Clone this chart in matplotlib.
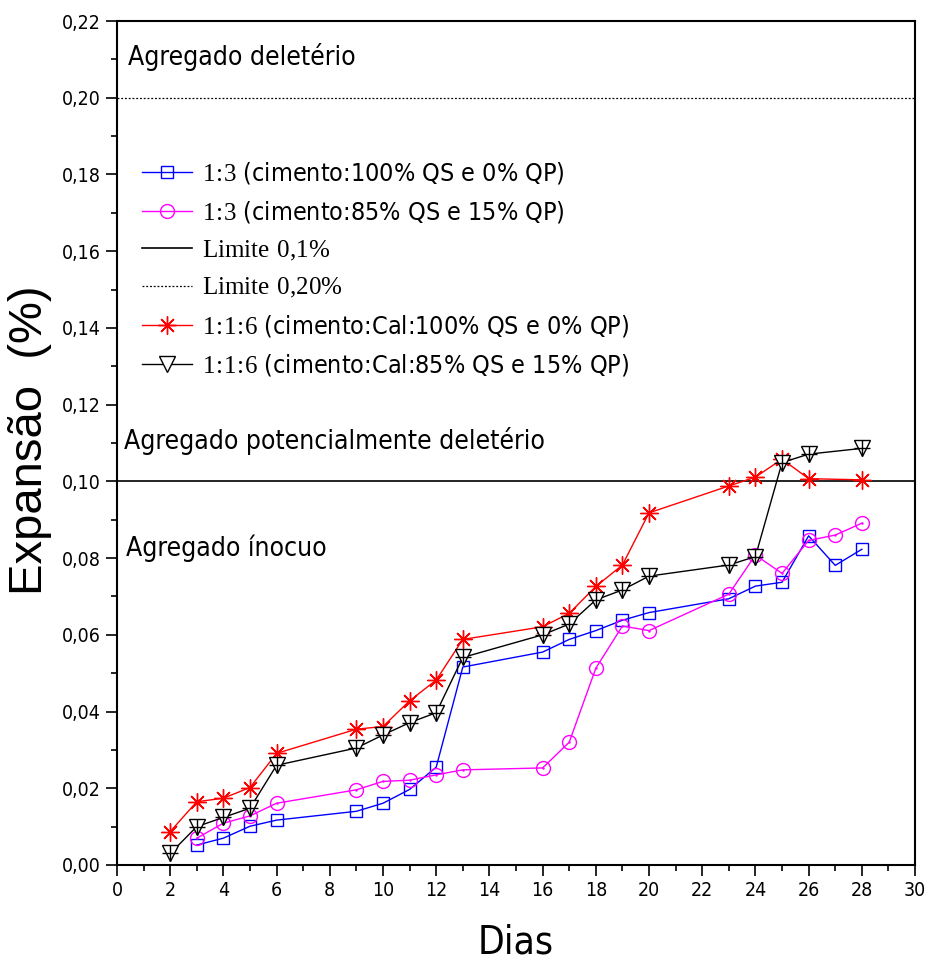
import matplotlib
matplotlib.use('Agg')
from matplotlib import pyplot as plt
from matplotlib import font_manager
from matplotlib.ticker import MultipleLocator, FuncFormatter

available = {f.name for f in font_manager.fontManager.ttflist}
serif = 'Liberation Serif' if 'Liberation Serif' in available else 'DejaVu Serif'
arial = 'Liberation Sans' if 'Liberation Sans' in available else 'DejaVu Sans'

plt.rcParams['mathtext.fontset'] = 'custom'
plt.rcParams['mathtext.rm'] = serif

# dias de ensaio e expansões medidas
dias_13_a = [3, 4, 5, 6, 9, 10, 11, 12, 13, 16, 17, 18, 19, 20, 23, 24, 25, 26, 27, 28]
exp_13_a = [0.0052, 0.0070, 0.0101, 0.0117, 0.0140, 0.0161, 0.0197, 0.0255, 0.0516, 0.0555,
            0.0588, 0.0611, 0.0638, 0.0658, 0.0694, 0.0727, 0.0737, 0.0858, 0.0781, 0.0823]

dias_13_b = [3, 4, 5, 6, 9, 10, 11, 12, 13, 16, 17, 18, 19, 20, 23, 24, 25, 26, 27, 28]
exp_13_b = [0.0070, 0.0109, 0.0128, 0.0161, 0.0196, 0.0218, 0.0221, 0.0235, 0.0248, 0.0253,
            0.0320, 0.0513, 0.0623, 0.0611, 0.0706, 0.0808, 0.0760, 0.0846, 0.0860, 0.0891]

dias_116_a = [2, 3, 4, 5, 6, 9, 10, 11, 12, 13, 16, 17, 18, 19, 20, 23, 24, 25, 26, 28]
exp_116_a = [0.0087, 0.0165, 0.0174, 0.0202, 0.0291, 0.0354, 0.0361, 0.0428, 0.0482, 0.0588,
             0.0621, 0.0656, 0.0726, 0.0782, 0.0918, 0.0988, 0.1011, 0.1058, 0.1007, 0.1004]

dias_116_b = [2, 3, 4, 5, 6, 9, 10, 11, 12, 13, 16, 17, 18, 19, 20, 23, 24, 25, 26, 28]
exp_116_b = [0.0030, 0.0100, 0.0124, 0.0148, 0.0260, 0.0305, 0.0339, 0.0371, 0.0397, 0.0541,
             0.0600, 0.0628, 0.0691, 0.0717, 0.0753, 0.0782, 0.0804, 0.1049, 0.1071, 0.1086]

sans = 'DejaVu Sans'
# mathtext spaces out ':' as a relation, so pull the digits back a little
c = r'\!:\!'

fig = plt.figure(figsize=(9.27, 9.64), dpi=100)
ax = fig.add_axes([0.1262, 0.1027, 0.8609, 0.8755])

ms = 9
ax.plot(dias_13_a, exp_13_a, color='#0000ff', lw=1, marker='s', ms=ms, mfc='none',
        mec='#0000ff', mew=1, label=rf'$\mathrm{{1{c}3}}$ (cimento:100% QS e 0% QP)')
ax.plot(dias_13_b, exp_13_b, color='#ff00ff', lw=1, marker='o', ms=ms + 1, mfc='none',
        mec='#ff00ff', mew=1, label=rf'$\mathrm{{1{c}3}}$ (cimento:85% QS e 15% QP)')
ax.plot(dias_13_b, exp_13_b, ls='none', marker='.', ms=1.5, color='#ff00ff')
ax.axhline(0.10, color='black', lw=1.2, label=r'$\mathrm{Limite\ 0{,}1\%}$')
ax.axhline(0.20, color='black', lw=0.9, ls=(0, (1.5, 1.5)), label=r'$\mathrm{Limite\ 0{,}20\%}$')
ax.plot(dias_116_a, exp_116_a, color='#ff0000', lw=1, marker=(8, 2, 0), ms=ms + 4,
        mec='#ff0000', mew=1, label=rf'$\mathrm{{1{c}1{c}6}}$ (cimento:Cal:100% QS e 0% QP)')
ax.plot(dias_116_b, exp_116_b, color='black', lw=1, marker='v', ms=ms + 2, mfc='white',
        mec='black', mew=1, label=rf'$\mathrm{{1{c}1{c}6}}$ (cimento:Cal:85% QS e 15% QP)')
ax.plot(dias_116_b, exp_116_b, ls='none', marker='+', ms=ms + 3, mec='black', mew=1)

ax.set_xlim(0, 30)
ax.set_ylim(0, 0.22)
ax.xaxis.set_major_locator(MultipleLocator(2))
ax.xaxis.set_minor_locator(MultipleLocator(1))
ax.yaxis.set_major_locator(MultipleLocator(0.02))
ax.yaxis.set_minor_locator(MultipleLocator(0.01))
ax.xaxis.set_major_formatter(FuncFormatter(lambda v, p: f'{v:.0f}'))
ax.yaxis.set_major_formatter(FuncFormatter(lambda v, p: f'{v:.2f}'.replace('.', ',')))
ax.tick_params(which='both', direction='out', width=1.2)
ax.tick_params(which='major', length=8, labelsize=14)
ax.tick_params(which='minor', length=4)
for lab in ax.get_xticklabels() + ax.get_yticklabels():
    lab.set_family(sans)
    lab.set_stretch('condensed')
for s in ax.spines.values():
    s.set_linewidth(1.5)

fig.text(516 / 927, 1 - 942 / 964, 'Dias', family=sans, stretch='condensed', fontsize=28,
         ha='center', va='center')
fig.text(30 / 927, 1 - 440 / 964, 'Expansão  (%)', family=arial, fontsize=34,
         rotation=90, ha='center', va='center')

ax.text(0.4, 0.2105, 'Agregado deletério', family=sans, stretch='condensed', fontsize=19,
        va='center')
ax.text(0.25, 0.1105, 'Agregado potencialmente deletério', family=sans, stretch='condensed',
        fontsize=19, va='center')
ax.text(0.35, 0.0825, 'Agregado ínocuo', family=sans, stretch='condensed', fontsize=19,
        va='center')

leg = ax.legend(loc='upper left', bbox_to_anchor=(0.003, 0.862), frameon=False,
                prop={'family': sans, 'stretch': 'condensed', 'size': 18},
                handlelength=2.0, labelspacing=0.52, handletextpad=0.4)

fig.savefig('out.png', dpi=100)
